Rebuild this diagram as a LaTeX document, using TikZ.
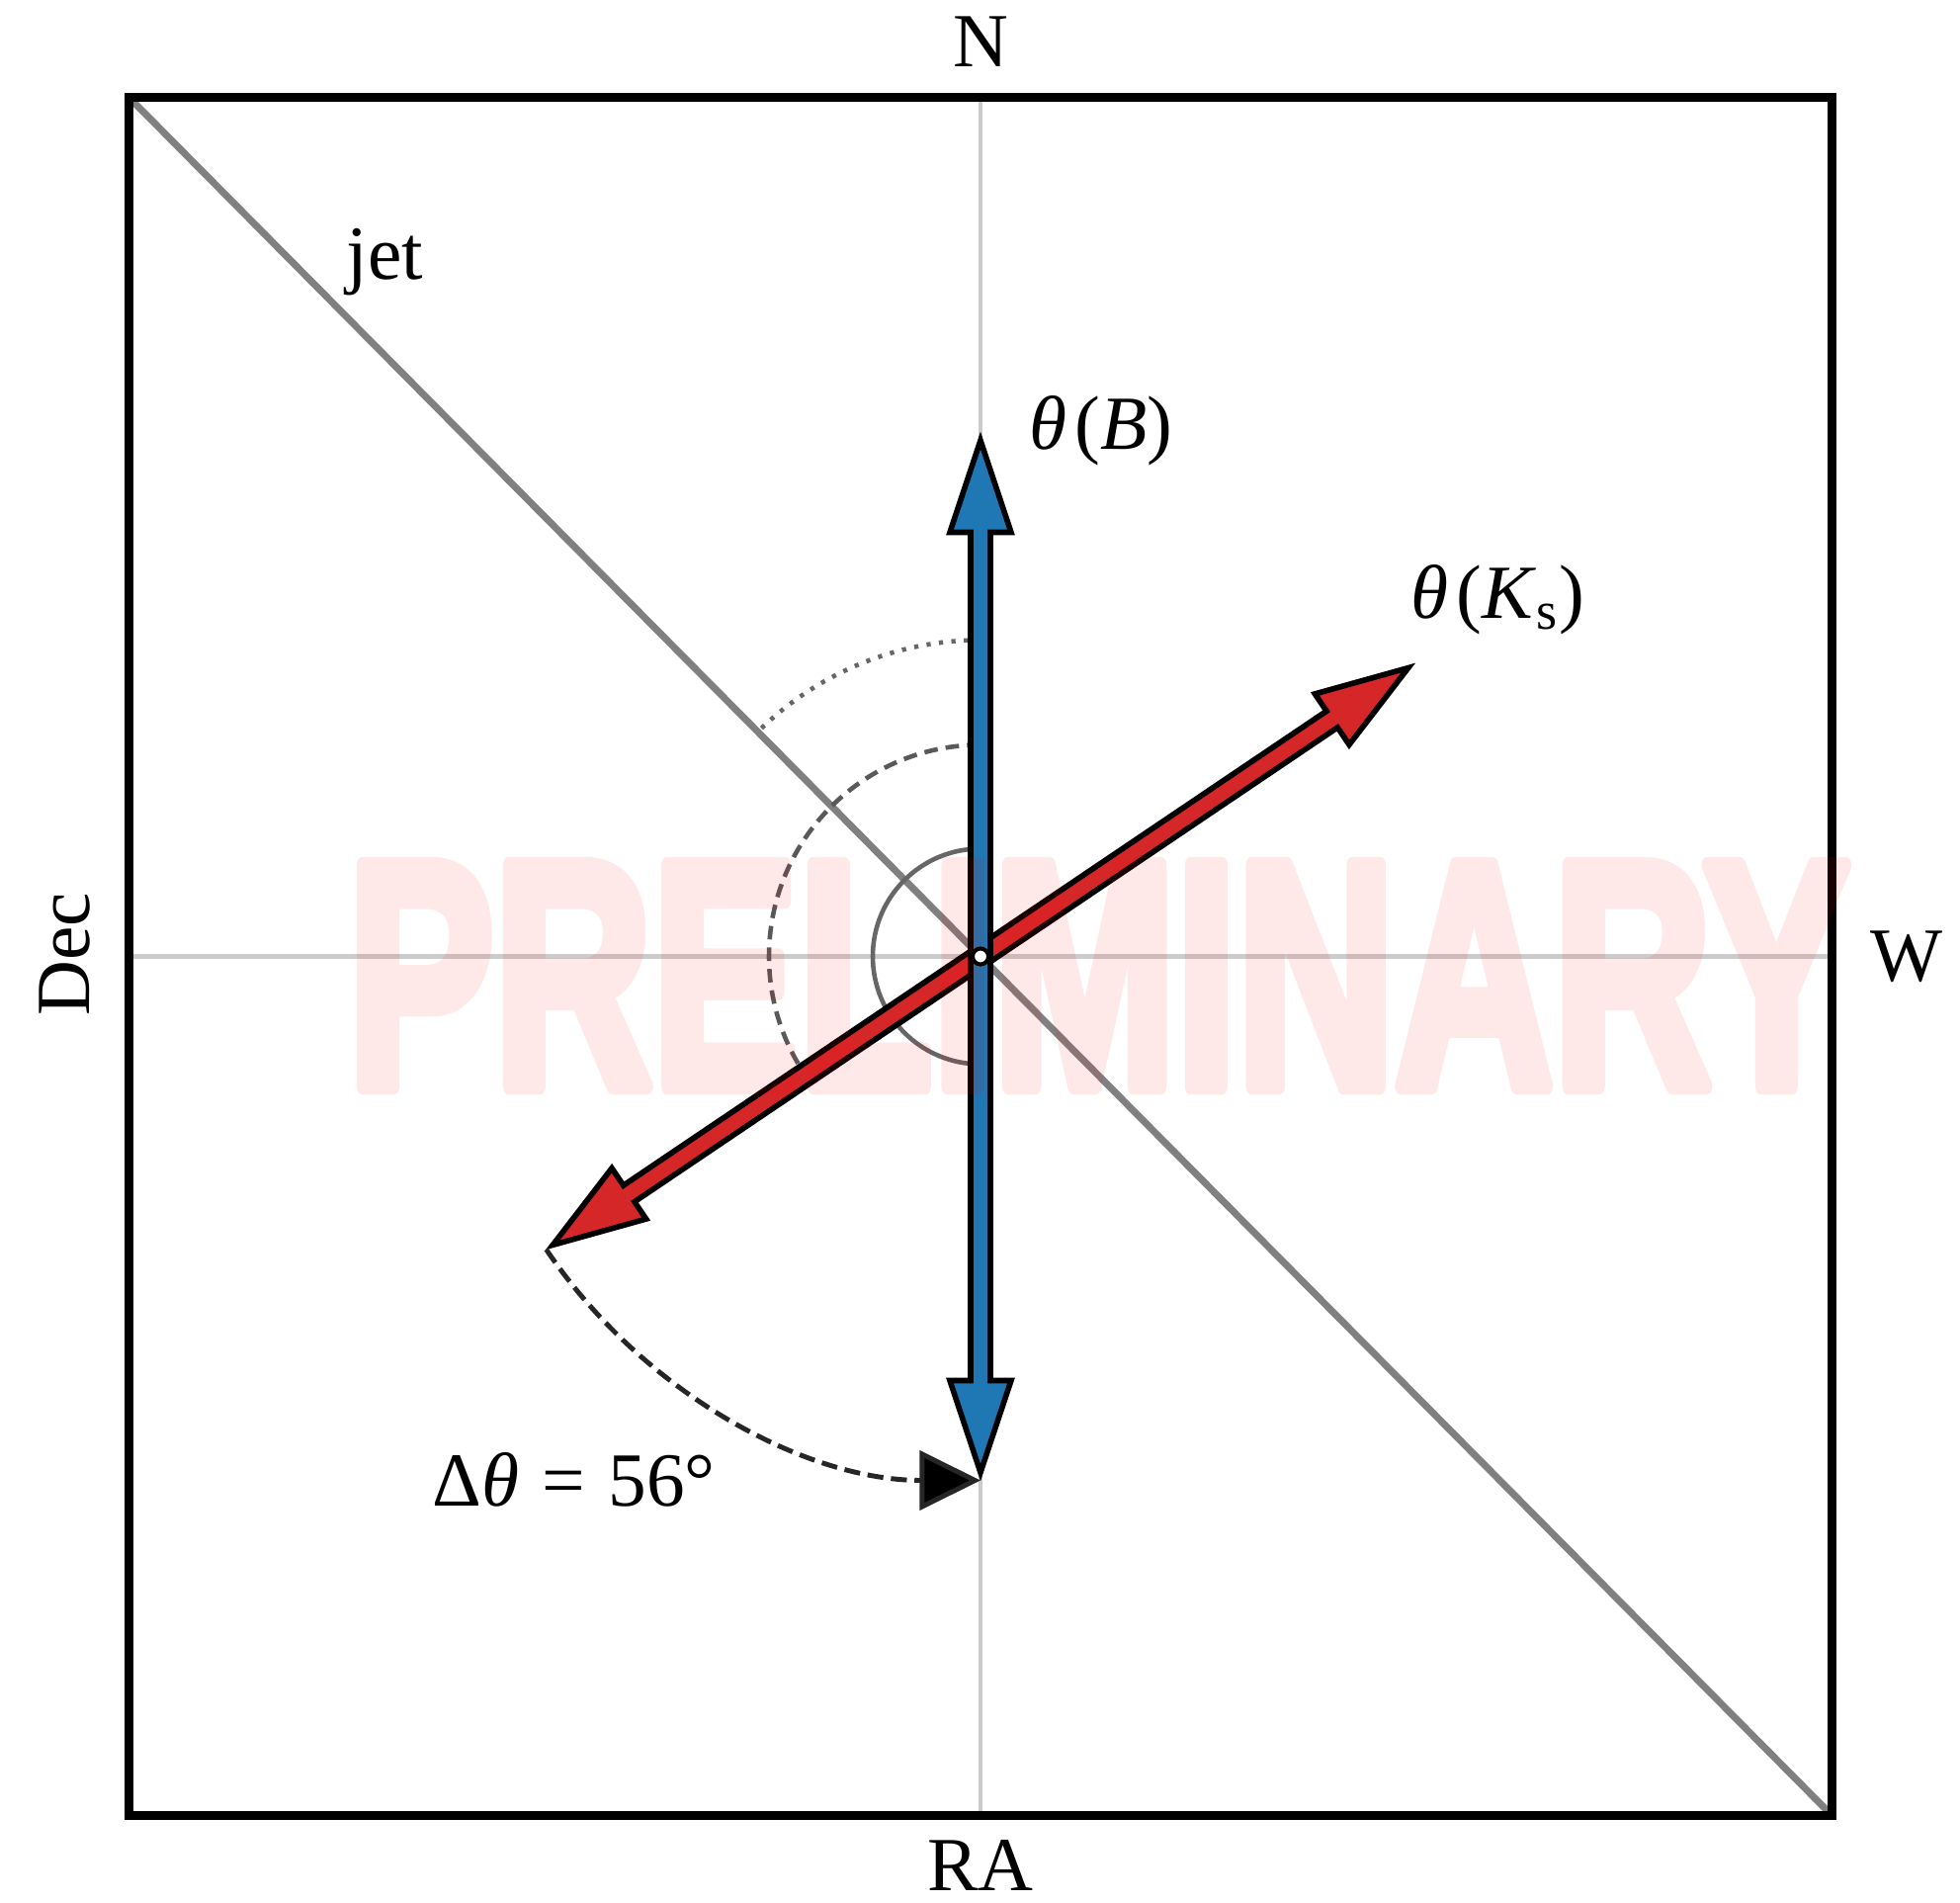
\documentclass[tikz,border=0pt]{standalone}
\usepackage{fontspec}
\setmainfont{Liberation Serif}
\newfontfamily\wmfont[BoldFeatures={FakeBold=5}]{Liberation Sans}
\usetikzlibrary{arrows.meta,calc}
\definecolor{mplblue}{HTML}{1F77B4}
\definecolor{mplred}{HTML}{D62728}
\definecolor{jetgray}{HTML}{808080}
\definecolor{crossgray}{HTML}{CCCCCC}
\definecolor{wmred}{HTML}{FF0000}
\begin{document}
\begin{tikzpicture}[x=0.01cm,y=0.01cm,
  lbl/.style={inner sep=0pt, font=\fontsize{22}{26}\selectfont},
  cross/.style={crossgray, line width=1.4pt},
  jetline/.style={jetgray, line width=2pt},
  frame/.style={black, line width=2.6pt, line join=miter},
  fatarrow/.style={draw=black, line width=1.6pt, line join=miter},
  anglearc/.style={black!60, line width=1.3pt},
  rotarc/.style={black!85, line width=1.4pt, dash pattern=on 4.6pt off 2.2pt, -{Triangle[length=17.5pt,width=17pt,fill=black]}},
]
\useasboundingbox (0,0) rectangle (1983,1924);
% frame corners and centre
\coordinate (BL) at (130.5,87.5);
\coordinate (TR) at (1853.5,1825.5);
\coordinate (TL) at (130.5,1825.5);
\coordinate (BR) at (1853.5,87.5);
\coordinate (C) at (992,956.5);
\coordinate (Ntop) at (992,1825.5);
\coordinate (Sbot) at (992,87.5);
\coordinate (Wleft) at (130.5,956.5);
\coordinate (Eright) at (1853.5,956.5);
% crosshair
\draw[cross] (Sbot) -- (Ntop);
\draw[cross] (Wleft) -- (Eright);
% jet line
\draw[jetline] (TL) -- (BR);
% frame
\draw[frame] (BL) rectangle (TR);
% angle arcs
\draw[anglearc] (C) ++(90:109) arc[start angle=90, end angle=270, radius=109];
\draw[anglearc, black!65, dash pattern=on 3.9pt off 2.3pt] (C) ++(90:214) arc[start angle=90, end angle=214, radius=214];
\draw[anglearc, dash pattern=on 1.2pt off 2.4pt] (C) ++(90:320) arc[start angle=90, end angle=135, radius=320];
% red double arrow (K_s)
\begin{scope}[shift={(C)}, rotate=34]
\draw[fatarrow, fill=mplred] (522,0) -- (429,31) -- (429,10) -- (-429,10) -- (-429,31) -- (-522,0) -- (-429,-31) -- (-429,-10) -- (429,-10) -- (429,-31) -- cycle;
\end{scope}
% blue double arrow (B)
\begin{scope}[shift={(C)}, rotate=90]
\draw[fatarrow, fill=mplblue] (522,0) -- (429,31) -- (429,10) -- (-429,10) -- (-429,31) -- (-522,0) -- (-429,-31) -- (-429,-10) -- (429,-10) -- (429,-31) -- cycle;
\end{scope}
\coordinate (Ktip) at ($(C)+(214:530)$);
\coordinate (Btip) at ($(C)+(270:530)$);
% rotation arc
\draw[rotarc] (Ktip) arc[start angle=214, end angle=270, radius=530];
% watermark
\begin{scope}[transparency group, opacity=0.09, line join=round]
\node[inner sep=0pt, anchor=base west, text=wmred, font=\wmfont\bfseries\fontsize{92.6}{96}\selectfont] (wm) at (351,825) {\special{pdf:code 1 j}\scalebox{0.681}[1]{PRELIMINARY}};
\end{scope}
% centre marker
\draw[fill=white, line width=1.15pt] (C) circle[radius=8];
% labels
\node[lbl, anchor=base] (lN) at (992,1856) {N};
\node[lbl, anchor=base] (lRA) at (992,12) {RA};
\node[lbl, anchor=base west] (lW) at (1892,931) {W};
\node[lbl, rotate=90, anchor=base] (lDec) at (90,959) {Dec};
\node[lbl, anchor=base west] (ljet) at (350,1641) {jet};
\node[lbl, anchor=base west] (lB) at (1041,1469) {\textit{θ}\hspace{0.1em}(\textit{B})};
\node[lbl, anchor=base west] (lK) at (1427,1298) {\textit{θ}\hspace{0.1em}(\textit{K}\textsubscript{s})};
\node[lbl, anchor=base west] (ldelta) at (437,401) {Δ\textit{θ}\hspace{0.3em}=\hspace{0.3em}56°};
\end{tikzpicture}
\end{document}
